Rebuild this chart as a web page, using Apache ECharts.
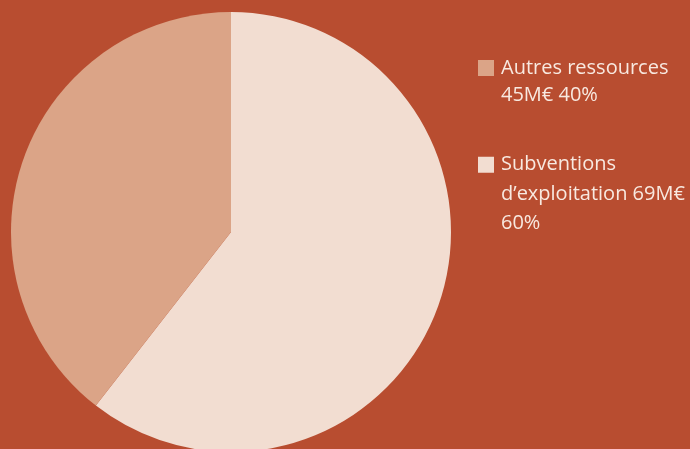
<!DOCTYPE html>
<html>
<head>
<meta charset="utf-8">
<script src="https://cdn.jsdelivr.net/npm/echarts@6/dist/echarts.min.js"></script>
<style>
  html, body { margin: 0; padding: 0; background: #b84d30; }
  #chart { width: 690px; height: 449px; }
</style>
</head>
<body>
<div id="chart"></div>
<script>
// Resource breakdown (M€)
const names = ['Subventions d\u2019exploitation', 'Autres ressources'];
const values = [69, 45];
const shares = [60, 40];
const colors = ['#f2ddd1', '#dba487'];
// Legend lines for each slice
const legendLines = [
  ['Subventions', 'd\u2019exploitation 69M\u20ac', '60%'],
  ['Autres ressources', '45M\u20ac 40%']
];

const pieData = names.map((n, i) => ({ name: n, value: values[i], itemStyle: { color: colors[i] } }));

// Pad with blank lines above so the first line sits level with the legend swatch
function legendText(lines) {
  return '\n'.repeat(lines.length - 1) + lines.join('\n');
}

function makeLegend(idx, top, lineHeight) {
  return {
    orient: 'vertical',
    left: 478,
    top: top,
    padding: 0,
    data: [names[idx]],
    icon: 'rect',
    itemWidth: 16,
    itemHeight: 16,
    itemGap: 0,
    selectedMode: false,
    textStyle: {
      color: '#f8e9e0',
      fontFamily: 'Open Sans',
      fontSize: 20,
      lineHeight: lineHeight,
      padding: [0, 0, 0, 2]
    },
    formatter: () => legendText(legendLines[idx])
  };
}

const chart = echarts.init(document.getElementById('chart'));
chart.setOption({
  backgroundColor: '#b84d30',
  animation: false,
  legend: [makeLegend(1, 27.5, 27), makeLegend(0, 91, 29.5)],
  series: [{
    type: 'pie',
    center: [231, 232],
    radius: 220,
    startAngle: 90,
    clockwise: true,
    label: { show: false },
    labelLine: { show: false },
    emphasis: { disabled: true },
    itemStyle: { borderWidth: 0 },
    data: pieData
  }]
});
</script>
</body>
</html>
